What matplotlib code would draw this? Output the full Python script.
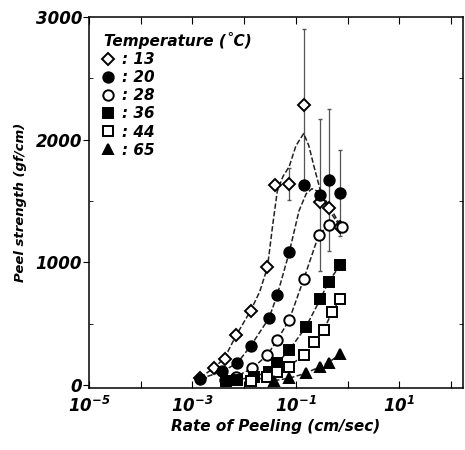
import numpy as np
import matplotlib
matplotlib.use("Agg")
import matplotlib.pyplot as plt
from matplotlib.ticker import FixedLocator, FixedFormatter, NullFormatter

plt.rcParams['font.family'] = ['DejaVu Sans']
plt.rcParams['mathtext.fontset'] = 'custom'
plt.rcParams['mathtext.rm'] = 'DejaVu Sans:italic:bold'
plt.rcParams['mathtext.it'] = 'DejaVu Sans:italic:bold'
plt.rcParams['mathtext.bf'] = 'DejaVu Sans:italic:bold'

# temperatures (deg C) and measured points, x given as log10(rate)
temps = ["13", "20", "28", "36", "44", "65"]

lx13 = [-2.85, -2.58, -2.38, -2.16, -1.87, -1.55, -1.40, -1.13, -0.85, -0.53, -0.37, -0.14]
y13 = [60, 140, 215, 405, 600, 960, 1630, 1640, 2280, 1490, 1440, 1290]
e13 = [0, 0, 0, 0, 0, 0, 0, 130, 620, 0, 0, 0]

lx20 = [-2.85, -2.42, -2.13, -1.87, -1.52, -1.36, -1.13, -0.85, -0.53, -0.37, -0.14]
y20 = [50, 110, 177, 318, 543, 733, 1080, 1630, 1548, 1670, 1562]
e20 = [0, 0, 0, 0, 0, 0, 0, 0, 620, 580, 350]

lx28 = [-2.38, -2.16, -1.84, -1.55, -1.36, -1.13, -0.85, -0.56, -0.37, -0.11]
y28 = [40, 68, 136, 245, 367, 530, 861, 1222, 1304, 1290]

lx36 = [-2.35, -2.13, -1.81, -1.52, -1.36, -1.13, -0.81, -0.53, -0.37, -0.14]
y36 = [30, 41, 68, 108, 177, 285, 470, 698, 842, 978]

lx44 = [-1.87, -1.55, -1.36, -1.13, -0.85, -0.65, -0.46, -0.30, -0.14]
y44 = [30, 68, 108, 150, 245, 353, 448, 597, 700]

lx65 = [-1.42, -1.13, -0.81, -0.53, -0.37, -0.14]
y65 = [35, 55, 95, 150, 182, 253]

# fitted curves (13 and 20 differ from the points)
clx13 = [-2.85, -2.58, -2.38, -2.16, -1.87, -1.70, -1.55, -1.45, -1.36, -1.25, -1.13, -1.0,
         -0.85, -0.75, -0.65, -0.53, -0.37, -0.14]
cy13 = [60, 140, 220, 400, 610, 760, 960, 1300, 1580, 1700, 1780, 1950, 2050, 1950, 1780,
        1590, 1430, 1290]
clx20 = [-2.85, -2.42, -2.13, -1.87, -1.52, -1.36, -1.13, -0.94, -0.80, -0.69, -0.53, -0.37, -0.14]
cy20 = [50, 110, 180, 320, 545, 735, 1080, 1420, 1560, 1600, 1570, 1470, 1300]

series = [
    (lx13, y13, e13, clx13, cy13, 'D', 'white', 6.5),
    (lx20, y20, e20, clx20, cy20, 'o', 'black', 7.5),
    (lx28, y28, None, lx28, y28, 'o', 'white', 7.5),
    (lx36, y36, None, lx36, y36, 's', 'black', 7),
    (lx44, y44, None, lx44, y44, 's', 'white', 7),
    (lx65, y65, None, lx65, y65, '^', 'black', 7),
]

fig = plt.figure(figsize=(4.65, 4.5), dpi=100)
ax = fig.add_axes([89 / 465, 1 - 388 / 450, (463 - 89) / 465, (388 - 17) / 450])

handles = []
for lx, y, err, clx, cy, mk, fc, ms in series:
    x = 10 ** np.array(lx)
    ax.plot(10 ** np.array(clx), cy, color='#222222', lw=1.1, ls=(0, (3.5, 1.5)), zorder=2)
    if err is not None:
        ax.errorbar(x, y, yerr=err, fmt='none', ecolor='#555555', elinewidth=0.9,
                    capsize=1.5, zorder=1)
    h, = ax.plot(x, y, ls='none', marker=mk, mfc=fc, mec='black', mew=1.4, ms=ms, zorder=3)
    handles.append(h)

ax.set_xscale('log')
ax.set_xlim(1e-5, 10 ** 2.23)
ax.set_ylim(-25, 3000)

ax.xaxis.set_major_locator(FixedLocator([10.0 ** k for k in range(-5, 3)]))
ax.xaxis.set_major_formatter(FixedFormatter(
    [r'$10^{-5}$', '', r'$10^{-3}$', '', r'$10^{-1}$', '', r'$10^{1}$', '']))
ax.xaxis.set_minor_formatter(NullFormatter())
ax.set_yticks([0, 1000, 2000, 3000])
ax.set_yticklabels(['0', '1000', '2000', '3000'])
ax.set_yticks([500, 1500, 2500], minor=True)

ax.tick_params(axis='x', which='both', direction='in', top=True, labelsize=12, pad=6)
ax.tick_params(axis='x', which='major', length=5)
ax.tick_params(axis='x', which='minor', length=2.5)
ax.tick_params(axis='y', which='major', direction='out', length=4, labelsize=12, pad=1)
ax.tick_params(axis='y', which='minor', direction='in', length=3, right=True)
for lab in ax.get_yticklabels():
    lab.set_fontweight('bold')
    lab.set_fontstyle('italic')
for s in ax.spines.values():
    s.set_linewidth(1.1)

ax.set_xlabel('Rate of Peeling (cm/sec)', fontsize=11, fontweight='bold', fontstyle='italic',
              labelpad=2)
ax.set_ylabel('Peel strength (gf/cm)', fontsize=9.5, fontweight='bold', fontstyle='italic',
              labelpad=6)

leg = ax.legend(handles, [': ' + t for t in temps], title='Temperature (\u02daC)',
                loc='upper left', bbox_to_anchor=(0.035, 0.963), frameon=False,
                handlelength=0.6, handletextpad=0.6, labelspacing=0.2, borderpad=0.1,
                borderaxespad=0, alignment='left',
                prop={'size': 11, 'weight': 'bold', 'style': 'italic'})
leg.get_title().set_fontsize(11)
leg.get_title().set_fontweight('bold')
leg.get_title().set_fontstyle('italic')

fig.savefig('out.png', dpi=100)
